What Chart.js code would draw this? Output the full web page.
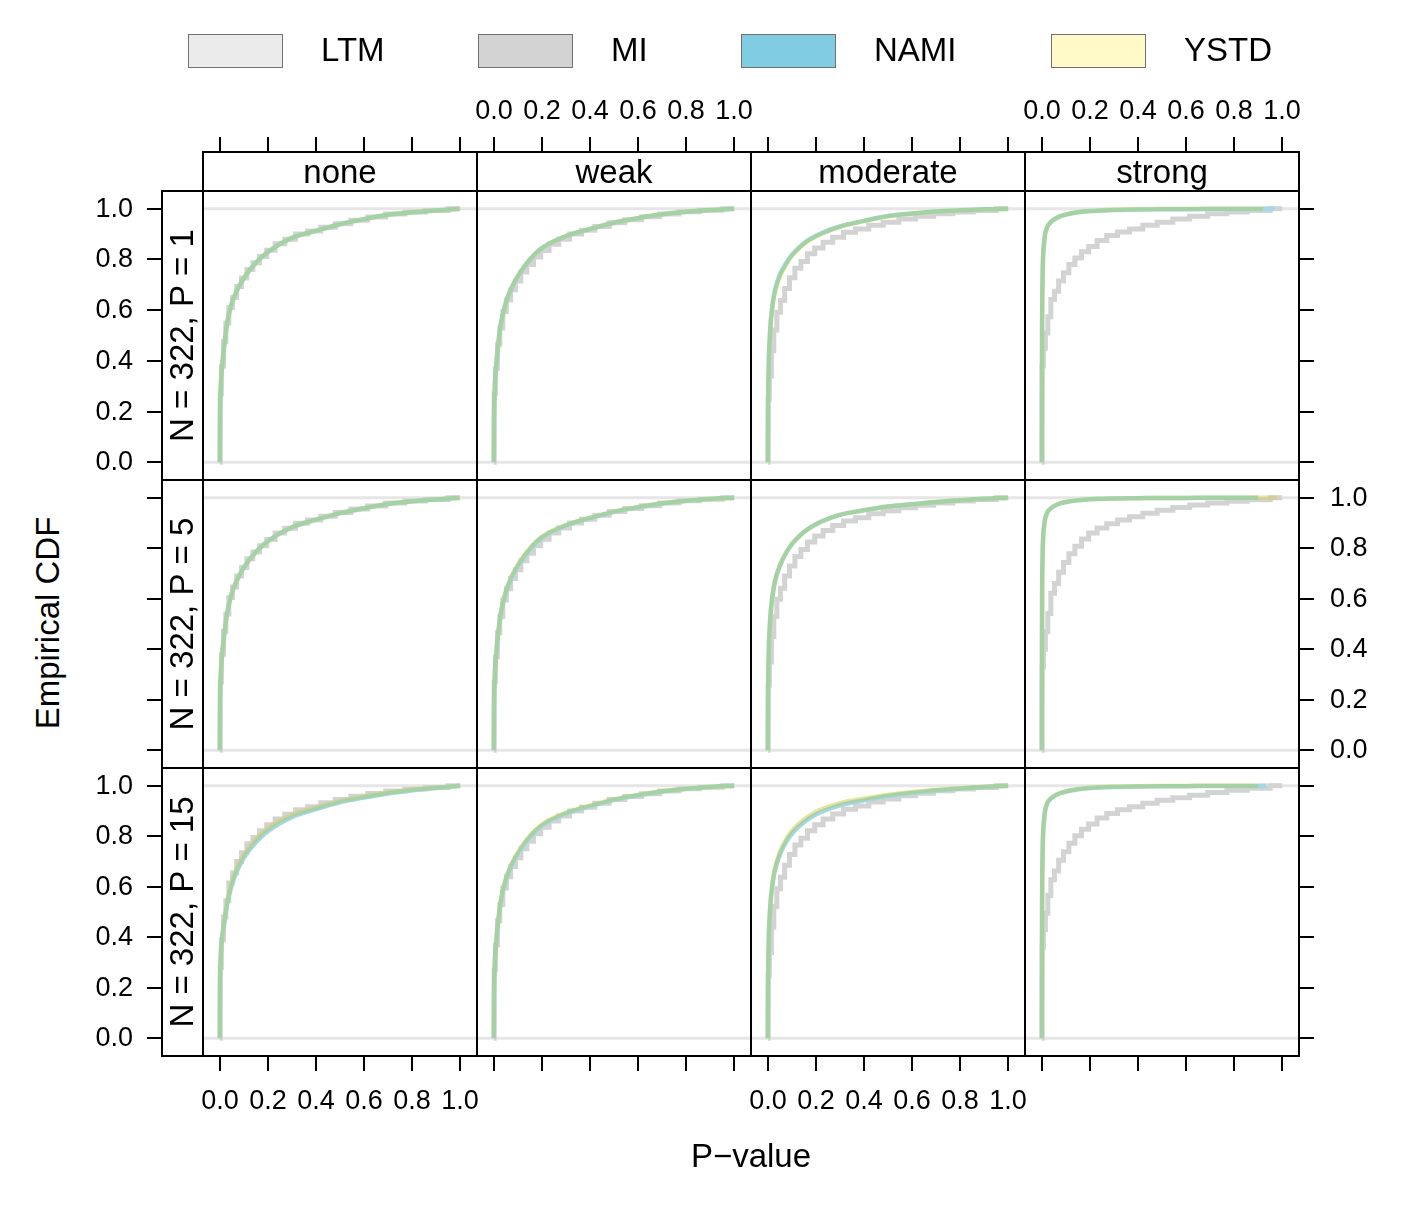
<!DOCTYPE html>
<html><head><meta charset="utf-8">
<script src="https://cdn.jsdelivr.net/npm/chart.js@4.4.1/dist/chart.umd.min.js"></script>
<style>
html,body{margin:0;padding:0;background:#fff;}
body{width:1420px;height:1217px;position:relative;overflow:hidden;font-family:"Liberation Sans",Arial,Helvetica,sans-serif;}
canvas.panel{position:absolute;}
.lg-box{position:absolute;border:1.5px solid #707070;box-sizing:border-box;}
.lg-text{position:absolute;font-size:33px;line-height:1;color:#000;transform:translateY(-50%);white-space:nowrap;}
.title{position:absolute;font-size:33px;line-height:1;white-space:nowrap;color:#000;}
</style></head><body>
<script>
// ---------- data ----------
const columns = ['none', 'weak', 'moderate', 'strong'];
const rows = ['N = 322, P = 1', 'N = 322, P = 5', 'N = 322, P = 15'];
const seriesNames = ['LTM', 'MI', 'NAMI', 'YSTD'];
const fillColors = ['#ebebeb', '#d3d3d3', '#80cde3', '#fffac8'];
const lineColors = ['#e8e8e8', '#d3d3d3', 'rgb(165,215,230)', 'rgb(255,250,182)'];
const tickValues = [0, 0.2, 0.4, 0.6, 0.8, 1.0];
const tickLabels = ['0.0', '0.2', '0.4', '0.6', '0.8', '1.0'];
const axisTitleX = 'P\u2212value';
const axisTitleY = 'Empirical CDF';

// P-value grid for the smooth ECDFs (LTM, NAMI, YSTD)
const pGrid = [0, 0.001, 0.003, 0.01, 0.02, 0.03, 0.05, 0.075, 0.1, 0.15, 0.2, 0.3, 0.4, 0.5, 0.6, 0.7, 0.8, 0.9, 1.0];
// P-value grid for the stepped MI ECDF
const miGrid = [0, 0.003, 0.01, 0.02, 0.03, 0.045, 0.06, 0.08, 0.1, 0.125, 0.15, 0.18, 0.21, 0.25, 0.29, 0.34, 0.39, 0.45, 0.51, 0.58, 0.65, 0.73, 0.81, 0.9, 1.0];

// [row][column] ECDF values at pGrid
const LTM = [
  [[0,0.17,0.27,0.38,0.475,0.548,0.628,0.684,0.727,0.787,0.83,0.885,0.913,0.939,0.959,0.976,0.986,0.993,1],
   [0,0.17,0.27,0.38,0.48,0.55,0.63,0.69,0.734,0.8,0.845,0.892,0.92,0.945,0.963,0.978,0.988,0.995,1],
   [0,0.2,0.35,0.52,0.62,0.675,0.735,0.78,0.815,0.862,0.892,0.93,0.952,0.971,0.981,0.989,0.994,0.998,1],
   [0,0.5,0.72,0.87,0.922,0.94,0.957,0.97,0.977,0.986,0.991,0.996,0.998,0.999,0.999,1,1,1,1]],
  [[0,0.17,0.27,0.38,0.47,0.54,0.622,0.68,0.724,0.785,0.828,0.883,0.913,0.939,0.958,0.975,0.986,0.993,1],
   [0,0.17,0.27,0.38,0.48,0.55,0.63,0.69,0.734,0.8,0.845,0.892,0.92,0.945,0.963,0.978,0.988,0.995,1],
   [0,0.2,0.35,0.52,0.615,0.67,0.73,0.78,0.816,0.864,0.895,0.932,0.95,0.965,0.974,0.983,0.99,0.996,1],
   [0,0.55,0.76,0.89,0.935,0.951,0.966,0.977,0.983,0.99,0.994,0.997,0.998,0.999,0.999,1,1,1,1]],
  [[0,0.2,0.3,0.4,0.47,0.533,0.615,0.678,0.723,0.784,0.828,0.882,0.912,0.938,0.956,0.971,0.983,0.992,1],
   [0,0.17,0.27,0.38,0.48,0.55,0.63,0.69,0.734,0.8,0.845,0.892,0.92,0.945,0.963,0.978,0.988,0.995,1],
   [0,0.2,0.35,0.52,0.618,0.673,0.735,0.785,0.82,0.864,0.896,0.93,0.948,0.963,0.974,0.983,0.99,0.996,1],
   [0,0.5,0.72,0.87,0.924,0.942,0.958,0.97,0.977,0.986,0.991,0.996,0.998,0.999,0.999,1,1,1,1]]
];
const NAMI = [
  [[0,0.17,0.27,0.38,0.475,0.548,0.628,0.684,0.727,0.787,0.83,0.885,0.913,0.939,0.959,0.976,0.986,0.993,1],
   [0,0.17,0.27,0.38,0.48,0.55,0.63,0.69,0.734,0.8,0.845,0.892,0.92,0.945,0.963,0.978,0.988,0.995,1],
   [0,0.2,0.35,0.525,0.626,0.68,0.74,0.784,0.818,0.864,0.893,0.93,0.952,0.971,0.981,0.989,0.994,0.998,1],
   [0,0.5,0.72,0.87,0.922,0.94,0.957,0.97,0.977,0.986,0.991,0.995,0.997,0.998,0.998,0.999,0.999,0.999,1]],
  [[0,0.17,0.27,0.38,0.47,0.54,0.622,0.68,0.724,0.785,0.828,0.883,0.913,0.939,0.958,0.975,0.986,0.993,1],
   [0,0.17,0.27,0.38,0.478,0.547,0.626,0.686,0.73,0.796,0.842,0.89,0.919,0.944,0.962,0.977,0.988,0.995,1],
   [0,0.2,0.35,0.52,0.615,0.67,0.73,0.78,0.816,0.864,0.895,0.932,0.95,0.965,0.974,0.983,0.99,0.996,1],
   [0,0.55,0.76,0.89,0.935,0.951,0.966,0.977,0.983,0.99,0.994,0.997,0.998,0.999,0.999,1,1,1,1]],
  [[0,0.2,0.3,0.4,0.467,0.528,0.608,0.67,0.715,0.776,0.82,0.875,0.907,0.934,0.953,0.969,0.982,0.991,1],
   [0,0.17,0.27,0.38,0.478,0.548,0.627,0.687,0.731,0.797,0.842,0.89,0.918,0.944,0.962,0.977,0.988,0.995,1],
   [0,0.2,0.35,0.518,0.613,0.666,0.727,0.776,0.81,0.855,0.886,0.922,0.942,0.959,0.971,0.981,0.989,0.995,1],
   [0,0.5,0.72,0.87,0.924,0.942,0.958,0.97,0.977,0.986,0.991,0.995,0.997,0.998,0.998,0.999,0.999,0.999,1]]
];
const YSTD = [
  [[0,0.17,0.27,0.38,0.475,0.548,0.628,0.684,0.727,0.787,0.83,0.885,0.913,0.939,0.959,0.976,0.986,0.993,1],
   [0,0.17,0.27,0.38,0.48,0.55,0.63,0.69,0.734,0.8,0.845,0.892,0.92,0.945,0.963,0.978,0.988,0.995,1],
   [0,0.2,0.35,0.517,0.615,0.67,0.73,0.776,0.812,0.86,0.89,0.929,0.951,0.97,0.981,0.989,0.994,0.998,1],
   [0,0.5,0.72,0.87,0.922,0.94,0.957,0.97,0.977,0.986,0.991,0.996,0.998,0.999,0.999,1,1,1,1]],
  [[0,0.17,0.27,0.38,0.47,0.54,0.622,0.68,0.724,0.785,0.828,0.883,0.913,0.939,0.958,0.975,0.986,0.993,1],
   [0,0.17,0.27,0.38,0.48,0.55,0.63,0.69,0.734,0.8,0.845,0.892,0.92,0.945,0.963,0.978,0.988,0.995,1],
   [0,0.2,0.35,0.52,0.615,0.67,0.73,0.78,0.816,0.864,0.895,0.932,0.95,0.965,0.974,0.983,0.99,0.996,1],
   [0,0.55,0.76,0.89,0.935,0.951,0.966,0.977,0.983,0.99,0.994,0.997,0.998,0.999,0.999,1,1,1,1]],
  [[0,0.2,0.3,0.4,0.471,0.535,0.618,0.681,0.726,0.787,0.831,0.884,0.913,0.939,0.957,0.972,0.984,0.992,1],
   [0,0.17,0.27,0.38,0.482,0.553,0.633,0.693,0.737,0.803,0.848,0.894,0.922,0.946,0.964,0.978,0.988,0.995,1],
   [0,0.2,0.35,0.52,0.62,0.675,0.737,0.787,0.822,0.866,0.897,0.931,0.949,0.964,0.975,0.984,0.99,0.996,1],
   [0,0.5,0.72,0.87,0.924,0.942,0.958,0.97,0.977,0.986,0.992,0.997,0.998,0.999,0.999,1,1,1,1]]
];
// [row][column] ECDF values at miGrid
const MI = [
  [[0,0.27,0.38,0.475,0.548,0.61,0.65,0.693,0.727,0.76,0.787,0.812,0.836,0.862,0.88,0.9,0.912,0.927,0.941,0.955,0.967,0.979,0.987,0.993,1],
   [0,0.27,0.37,0.465,0.53,0.595,0.64,0.68,0.715,0.75,0.78,0.81,0.835,0.86,0.88,0.9,0.915,0.93,0.945,0.957,0.968,0.979,0.988,0.994,1],
   [0,0.25,0.34,0.44,0.522,0.592,0.638,0.685,0.728,0.765,0.792,0.822,0.845,0.868,0.888,0.907,0.92,0.935,0.947,0.96,0.97,0.98,0.987,0.993,1],
   [0,0.38,0.45,0.51,0.574,0.642,0.675,0.715,0.748,0.78,0.806,0.83,0.851,0.875,0.894,0.908,0.92,0.935,0.947,0.96,0.97,0.98,0.987,0.993,1]],
  [[0,0.27,0.38,0.47,0.54,0.605,0.646,0.69,0.724,0.758,0.785,0.81,0.834,0.86,0.879,0.899,0.912,0.927,0.941,0.955,0.967,0.979,0.987,0.993,1],
   [0,0.27,0.37,0.465,0.53,0.595,0.64,0.68,0.715,0.75,0.78,0.81,0.835,0.86,0.88,0.9,0.915,0.93,0.945,0.957,0.968,0.979,0.988,0.994,1],
   [0,0.26,0.35,0.45,0.53,0.598,0.642,0.69,0.73,0.767,0.795,0.825,0.848,0.87,0.89,0.908,0.921,0.936,0.948,0.96,0.97,0.979,0.987,0.993,1],
   [0,0.33,0.4,0.47,0.542,0.622,0.66,0.705,0.743,0.778,0.808,0.836,0.86,0.88,0.897,0.912,0.925,0.938,0.95,0.961,0.971,0.979,0.986,0.992,1]],
  [[0,0.28,0.39,0.48,0.545,0.615,0.655,0.7,0.735,0.77,0.795,0.822,0.845,0.868,0.887,0.905,0.917,0.932,0.945,0.958,0.969,0.979,0.987,0.993,1],
   [0,0.27,0.37,0.465,0.53,0.595,0.64,0.68,0.715,0.75,0.78,0.81,0.835,0.86,0.88,0.9,0.915,0.93,0.945,0.957,0.968,0.979,0.988,0.994,1],
   [0,0.25,0.34,0.44,0.522,0.592,0.638,0.685,0.728,0.765,0.792,0.822,0.845,0.868,0.888,0.907,0.92,0.935,0.947,0.96,0.97,0.98,0.987,0.993,1],
   [0,0.36,0.43,0.495,0.565,0.628,0.662,0.705,0.738,0.772,0.802,0.828,0.848,0.872,0.89,0.905,0.917,0.93,0.942,0.952,0.962,0.973,0.982,0.99,1]]
];
// largest observed p-value of each series, [row][column]
const LTM_MAX  = [[1,1,1,1],[1,1,1,1],[1,1,1,1]];
const MI_MAX   = [[1,1,1,1],[1,1,1,1],[1,1,1,1]];
const NAMI_MAX = [[0.995,1,1,0.97],[0.995,1,1,0.90],[1,1,1,0.935]];
const YSTD_MAX = [[1,1,1,0.92],[1,1,1,0.98],[1,1,1,0.90]];

// ---------- layout ----------
const M = 130;
const colLeft = [203, 477, 751, 1025];
const colW = 274;
const rowTop = [191, 480, 768];
const rowH = [289, 288, 288];
const stripH = 39, stripW = 41, tickLen = 15;
const FONT = '"Liberation Sans", Arial, Helvetica, sans-serif';
const legendLeft = [188, 478, 741, 1051];

function buildPoints(grid, vals, maxP) {
  const pts = [];
  grid.forEach((x, i) => { if (x < maxP) pts.push({x: x, y: vals[i]}); });
  pts.push({x: maxP, y: 1});
  return pts;
}

const latticePlugin = {
  id: 'lattice',
  beforeDatasetsDraw(chart) {
    const {ctx, chartArea: a, scales} = chart;
    ctx.save();
    ctx.strokeStyle = '#e6e6e6';
    ctx.lineWidth = 3;
    [0, 1].forEach(v => {
      const py = scales.y.getPixelForValue(v);
      ctx.beginPath(); ctx.moveTo(a.left, py); ctx.lineTo(a.right, py); ctx.stroke();
    });
    ctx.restore();
  },
  beforeDatasetDraw(chart, args) {
    if (chart.data.datasets[args.index].label === 'YSTD') {
      chart.ctx.save();
      chart.ctx.globalCompositeOperation = 'multiply';
    }
  },
  afterDatasetDraw(chart, args) {
    if (chart.data.datasets[args.index].label === 'YSTD') chart.ctx.restore();
  },
  afterDraw(chart, _args, opts) {
    const {ctx, chartArea: a, scales} = chart;
    const xs = scales.x, ys = scales.y;
    const r = opts.row, c = opts.col;
    const nR = rows.length, nC = columns.length;
    ctx.save();
    ctx.strokeStyle = '#000';
    ctx.fillStyle = '#000';
    ctx.lineWidth = 2;
    ctx.strokeRect(a.left, a.top, a.right - a.left, a.bottom - a.top);
    ctx.font = '27px ' + FONT;
    if (r === 0) {
      ctx.strokeRect(a.left, a.top - stripH, a.right - a.left, stripH);
      ctx.save();
      ctx.font = '33px ' + FONT;
      ctx.textAlign = 'center'; ctx.textBaseline = 'middle';
      ctx.fillText(columns[c], (a.left + a.right) / 2, a.top - stripH / 2 + 2);
      ctx.restore();
      const y0 = a.top - stripH;
      tickValues.forEach((v, i) => {
        const px = Math.round(xs.getPixelForValue(v));
        ctx.beginPath(); ctx.moveTo(px, y0); ctx.lineTo(px, y0 - tickLen); ctx.stroke();
        if (c % 2 === 1) {
          ctx.textAlign = 'center'; ctx.textBaseline = 'middle';
          ctx.fillText(tickLabels[i], px, y0 - tickLen - 25);
        }
      });
    }
    if (r === nR - 1) {
      tickValues.forEach((v, i) => {
        const px = Math.round(xs.getPixelForValue(v));
        ctx.beginPath(); ctx.moveTo(px, a.bottom); ctx.lineTo(px, a.bottom + tickLen); ctx.stroke();
        if (c % 2 === 0) {
          ctx.textAlign = 'center'; ctx.textBaseline = 'middle';
          ctx.fillText(tickLabels[i], px, a.bottom + 46);
        }
      });
    }
    if (c === 0) {
      ctx.strokeRect(a.left - stripW, a.top, stripW, a.bottom - a.top);
      ctx.save();
      ctx.translate(a.left - stripW / 2 + 1, (a.top + a.bottom) / 2);
      ctx.rotate(-Math.PI / 2);
      ctx.font = '33px ' + FONT;
      ctx.textAlign = 'center'; ctx.textBaseline = 'middle';
      ctx.fillText(rows[r], 0, 0);
      ctx.restore();
      const x0 = a.left - stripW;
      tickValues.forEach((v, i) => {
        const py = Math.round(ys.getPixelForValue(v));
        ctx.beginPath(); ctx.moveTo(x0, py); ctx.lineTo(x0 - tickLen, py); ctx.stroke();
        if (r % 2 === 0) {
          ctx.textAlign = 'right'; ctx.textBaseline = 'middle';
          ctx.fillText(tickLabels[i], x0 - tickLen - 14, py + 1);
        }
      });
    }
    if (c === nC - 1) {
      tickValues.forEach((v, i) => {
        const py = Math.round(ys.getPixelForValue(v));
        ctx.beginPath(); ctx.moveTo(a.right, py); ctx.lineTo(a.right + tickLen, py); ctx.stroke();
        if (r % 2 === 1) {
          ctx.textAlign = 'left'; ctx.textBaseline = 'middle';
          ctx.fillText(tickLabels[i], a.right + tickLen + 16, py + 1);
        }
      });
    }
    ctx.restore();
  }
};

const seriesData = {LTM: LTM, MI: MI, NAMI: NAMI, YSTD: YSTD};
const seriesMax = {LTM: LTM_MAX, MI: MI_MAX, NAMI: NAMI_MAX, YSTD: YSTD_MAX};
const drawOrder = {LTM: 4, MI: 3, NAMI: 2, YSTD: 1};

for (let r = 0; r < rows.length; r++) {
  for (let c = 0; c < columns.length; c++) {
    const cv = document.createElement('canvas');
    cv.className = 'panel';
    const w = colW + 2 * M, h = rowH[r] + 2 * M;
    cv.width = w; cv.height = h;
    cv.style.width = w + 'px'; cv.style.height = h + 'px';
    cv.style.left = (colLeft[c] - M) + 'px';
    cv.style.top = (rowTop[r] - M) + 'px';
    document.body.appendChild(cv);
    const datasets = seriesNames.map((name, si) => {
      const isMI = name === 'MI';
      return {
        label: name,
        data: buildPoints(isMI ? miGrid : pGrid, seriesData[name][r][c], seriesMax[name][r][c]),
        borderColor: lineColors[si],
        borderWidth: isMI ? 5 : 4.5,
        pointRadius: 0,
        fill: false,
        stepped: isMI ? 'middle' : false,
        cubicInterpolationMode: 'monotone',
        order: drawOrder[name]
      };
    });
    new Chart(cv, {
      type: 'line',
      data: {datasets: datasets},
      options: {
        responsive: false,
        animation: false,
        events: [],
        layout: {padding: M},
        plugins: {legend: {display: false}, tooltip: {enabled: false}, lattice: {row: r, col: c}},
        scales: {
          x: {type: 'linear', min: -0.07, max: 1.07, display: false},
          y: {type: 'linear', min: -0.07, max: 1.07, display: false}
        }
      },
      plugins: [latticePlugin]
    });
  }
}

// legend
seriesNames.forEach((name, i) => {
  const b = document.createElement('div');
  b.className = 'lg-box';
  b.style.left = legendLeft[i] + 'px'; b.style.top = '34px';
  b.style.width = '95px'; b.style.height = '34px';
  b.style.background = fillColors[i];
  document.body.appendChild(b);
  const t = document.createElement('div');
  t.className = 'lg-text';
  t.textContent = name;
  t.style.left = (legendLeft[i] + 133) + 'px'; t.style.top = '49px';
  document.body.appendChild(t);
});
// axis titles
const tx = document.createElement('div');
tx.className = 'title'; tx.textContent = axisTitleX;
tx.style.left = '751px'; tx.style.top = '1155px';
tx.style.transform = 'translate(-50%,-50%)';
document.body.appendChild(tx);
const ty = document.createElement('div');
ty.className = 'title'; ty.textContent = axisTitleY;
ty.style.left = '47px'; ty.style.top = '623px';
ty.style.transform = 'translate(-50%,-50%) rotate(-90deg)';
document.body.appendChild(ty);
</script>
</body></html>
